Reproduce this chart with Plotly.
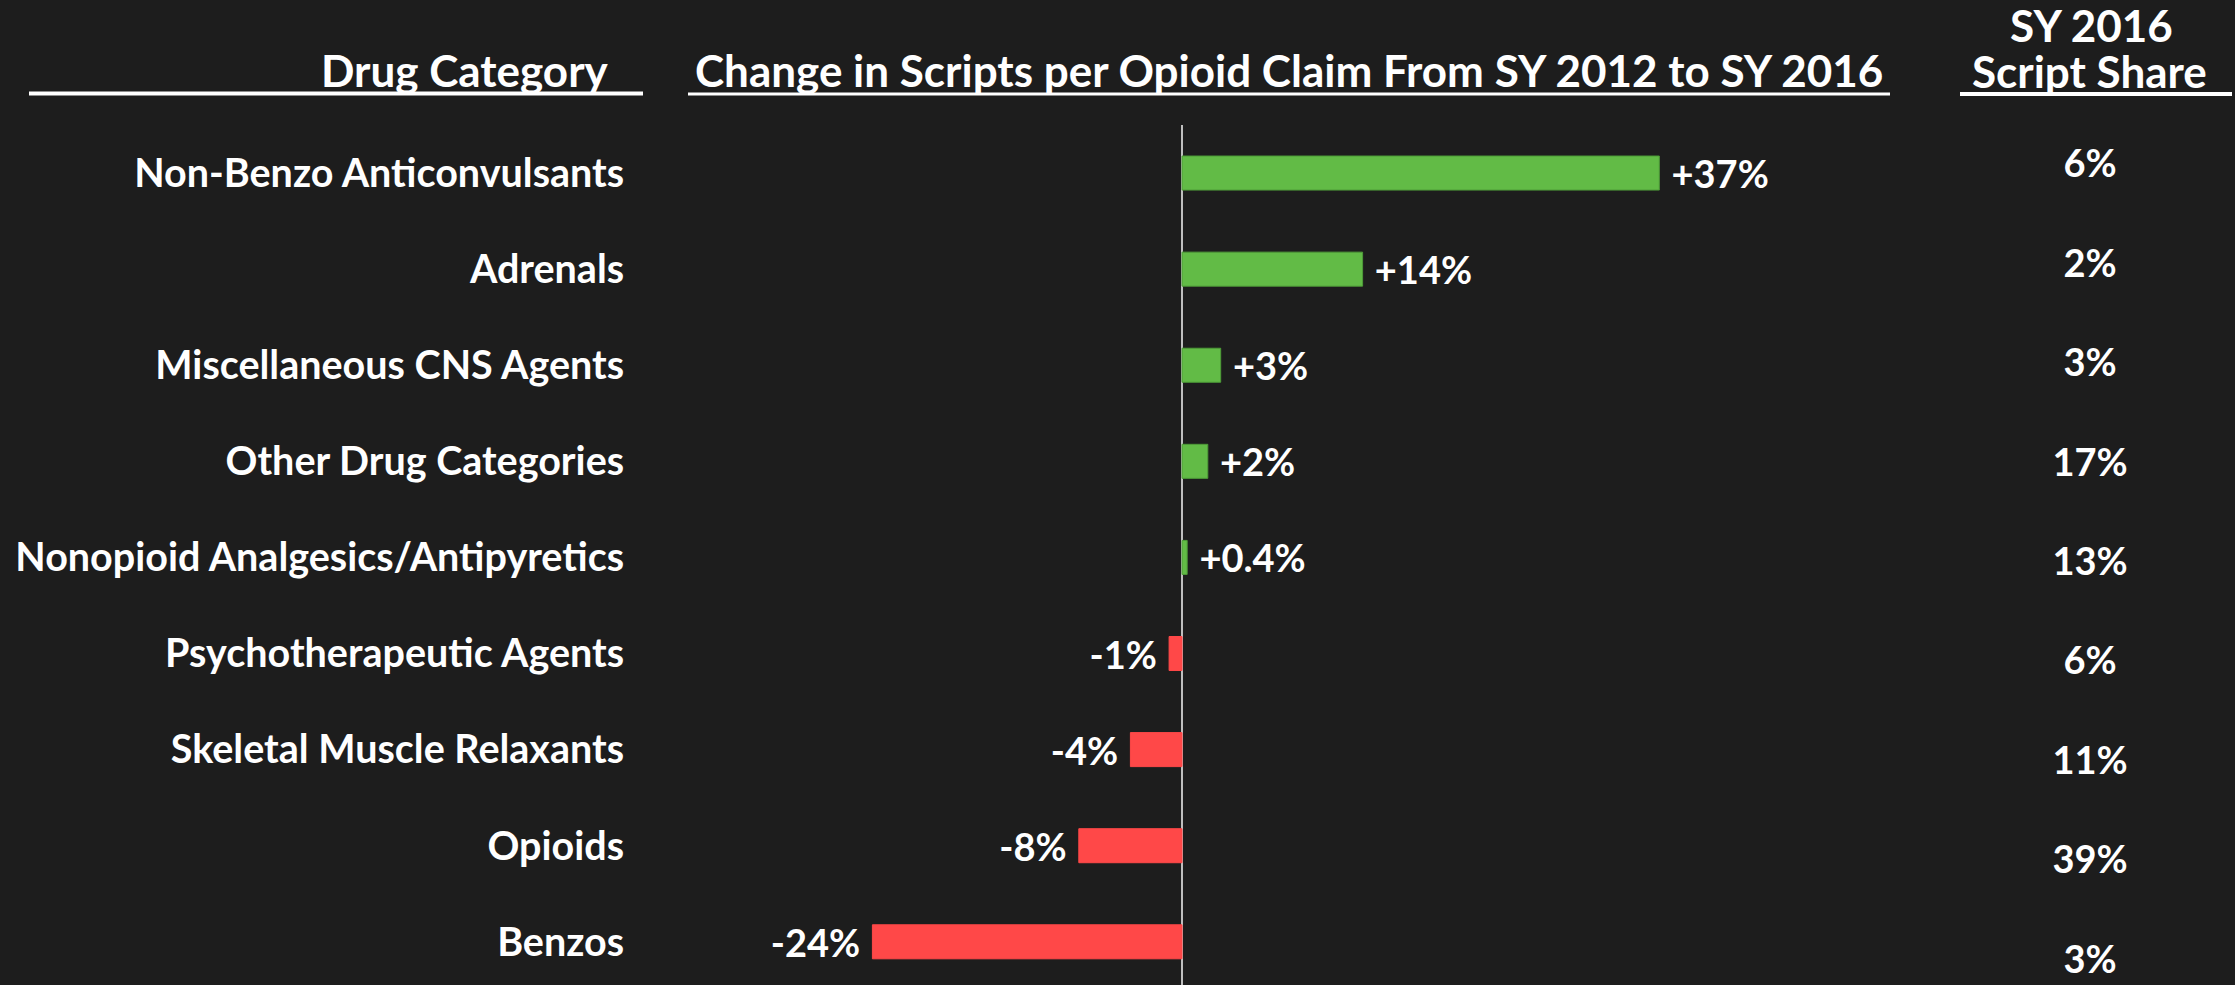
import plotly.graph_objects as go

# ---------------- data ----------------
categories = [
    "Non-Benzo Anticonvulsants",
    "Adrenals",
    "Miscellaneous CNS Agents",
    "Other Drug Categories",
    "Nonopioid Analgesics/Antipyretics",
    "Psychotherapeutic Agents",
    "Skeletal Muscle Relaxants",
    "Opioids",
    "Benzos",
]
change_pct = [37, 14, 3, 2, 0.4, -1, -4, -8, -24]
change_labels = ["+37%", "+14%", "+3%", "+2%", "+0.4%", "-1%", "-4%", "-8%", "-24%"]
share_labels = ["6%", "2%", "3%", "17%", "13%", "6%", "11%", "39%", "3%"]

header_category = "Drug Category"
header_change = "Change in Scripts per Opioid Claim From SY 2012 to SY 2016"
header_share_1 = "SY 2016"
header_share_2 = "Script Share"
share_column = ["SY 2016 Script Share"] * len(categories)

# ---------------- styling ----------------
W, H = 2235, 985
BG = "#1D1D1D"
GREEN = "#62BB46"
GREEN_EDGE = "#4E9C38"
RED = "#FF4848"
WHITE = "#FFFFFF"
FONT = "Lato"

def px_x(p):
    return p / W

def px_y(p):
    return 1 - p / H

# pixel geometry of the bar panel
x_left_px, x_right_px, zero_px, px_per_pct = 650, 1890, 1182, 12.9
x_range = [(x_left_px - zero_px) / px_per_pct, (x_right_px - zero_px) / px_per_pct]
top_px, row0_px, row_step = 125, 173, 96.1
y_bottom_idx = (H - row0_px) / row_step

share_row0, share_step = 168, 99.4
share_top_px = share_row0 - share_step / 2
share_bottom_idx = (H - share_row0) / share_step

bar_colors = [GREEN if v >= 0 else RED for v in change_pct]
edge_colors = [GREEN_EDGE if v >= 0 else RED for v in change_pct]
bar_text = ["\u00a0" + t if v >= 0 else t + "\u00a0" for t, v in zip(change_labels, change_pct)]

fig = go.Figure()
fig.add_trace(go.Bar(
    x=change_pct, y=categories, orientation="h",
    marker=dict(color=bar_colors, line=dict(color=edge_colors, width=1)),
    width=0.354,
    text=bar_text, textposition="outside", constraintext="none", cliponaxis=False,
    textfont=dict(family=FONT, size=38, color=WHITE, weight="bold"),
    hoverinfo="skip", showlegend=False,
))
fig.add_trace(go.Scatter(
    x=share_column, y=categories, mode="text", text=share_labels,
    textposition="middle center", xaxis="x2", yaxis="y2", cliponaxis=False,
    textfont=dict(family=FONT, size=38, color=WHITE, weight="bold"),
    hoverinfo="skip", showlegend=False,
))

ann_font = dict(family=FONT, size=44, color=WHITE, weight="bold")
annotations = [
    dict(text=header_category, x=px_x(611), y=px_y(70), xanchor="right", yanchor="middle"),
    dict(text=header_change, x=px_x(1289), y=px_y(70), xanchor="center", yanchor="middle"),
    dict(text=header_share_1, x=px_x(2091), y=px_y(25), xanchor="center", yanchor="middle"),
    dict(text=header_share_2, x=px_x(2089), y=px_y(71), xanchor="center", yanchor="middle"),
]
for a in annotations:
    a.update(xref="paper", yref="paper", showarrow=False, font=ann_font)

shapes = []
for x0, x1, yy, w in [(29, 643, 93.5, 4), (688, 1890, 94, 3), (1960, 2232, 94, 4)]:
    shapes.append(dict(type="line", xref="paper", yref="paper",
                       x0=px_x(x0), x1=px_x(x1), y0=px_y(yy), y1=px_y(yy),
                       line=dict(color=WHITE, width=w)))

fig.update_layout(
    width=W, height=H,
    margin=dict(l=0, r=0, t=0, b=0, pad=0),
    paper_bgcolor=BG, plot_bgcolor=BG,
    showlegend=False,
    annotations=annotations, shapes=shapes,
    xaxis=dict(domain=[px_x(x_left_px), px_x(x_right_px)], range=x_range,
               showgrid=False, showticklabels=False, ticks="",
               zeroline=True, zerolinecolor="#BFBFBF", zerolinewidth=2,
               showline=False, fixedrange=True),
    yaxis=dict(domain=[0, px_y(top_px)], type="category",
               categoryorder="array", categoryarray=categories,
               range=[y_bottom_idx, -0.5],
               showgrid=False, zeroline=False, showline=False,
               ticks="outside", ticklen=17, tickcolor=BG,
               tickfont=dict(family=FONT, size=39.5, color=WHITE, weight="bold"),
               fixedrange=True),
    xaxis2=dict(domain=[px_x(2040), px_x(2140)], type="category", range=[-0.5, 0.5],
                anchor="y2", showgrid=False, showticklabels=False, zeroline=False,
                showline=False, ticks="", fixedrange=True),
    yaxis2=dict(domain=[0, px_y(share_top_px)], type="category", anchor="x2",
                categoryorder="array", categoryarray=categories,
                range=[share_bottom_idx, -0.5],
                showgrid=False, showticklabels=False, zeroline=False,
                showline=False, ticks="", fixedrange=True),
    bargap=0.6,
)

fig.write_html(
    "out.html",
    config={"displayModeBar": False},
    post_script="document.body.style.margin='0';document.body.style.overflow='hidden';"
                "document.body.style.background='" + BG + "';",
)
